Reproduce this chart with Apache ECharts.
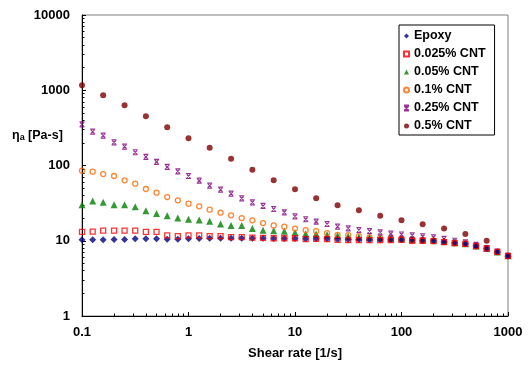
<!DOCTYPE html>
<html>
<head>
<meta charset="utf-8">
<script src="https://cdn.jsdelivr.net/npm/echarts@6/dist/echarts.min.js"></script>
<style>html,body{margin:0;padding:0;background:#fff;}#c{width:529px;height:371px;}</style>
</head>
<body>
<div id="c"></div>
<script>
// Shear rate (1/s), 10 points per decade
var shearRate = [0.1,0.126,0.158,0.2,0.251,0.316,0.398,0.501,0.631,0.794,
  1,1.26,1.58,2,2.51,3.16,3.98,5.01,6.31,7.94,
  10,12.6,15.8,20,25.1,31.6,39.8,50.1,63.1,79.4,
  100,126,158,200,251,316,398,501,631,794,1000];
// Shear rate for 0.5% CNT, 5 points per decade
var shearRate05 = [0.1,0.158,0.251,0.398,0.631,1,1.58,2.51,3.98,6.31,10,15.8,25.1,39.8,63.1,100,158,251,398,631,1000];

var epoxy = [10.3,10.3,10.3,10.4,10.4,10.6,10.6,10.6,10.5,10.5,
  10.6,10.7,10.8,10.8,10.8,10.8,10.8,10.8,10.7,10.7,
  10.7,10.6,10.6,10.6,10.5,10.4,10.4,10.3,10.3,10.3,
  10.3,10.2,10.0,9.9,9.6,9.3,9.1,8.5,7.9,7.1,6.2];
var cnt0025 = [13.1,13.2,13.6,13.6,13.6,13.6,13.1,13.1,11.8,11.5,
  11.8,11.8,11.5,11.5,11.2,11.2,11.0,10.9,10.8,10.8,
  10.8,10.5,10.6,10.5,10.3,10.2,10.2,10.2,10.2,10.2,
  10.3,10.0,10.0,9.9,9.6,9.3,9.1,8.5,7.9,7.1,6.3];
var cnt005 = [30.1,33.7,32.4,30.1,30.0,28.4,25.1,23.1,21.5,20.0,
  19.3,18.9,18.2,16.7,16.0,15.9,14.5,13.8,13.6,13.4,
  12.9,12.4,12.3,12.0,11.7,11.5,11.2,11.1,10.9,10.8,
  10.6,10.4,10.3,10.2,9.8,9.4,9.1,8.5,7.9,7.1,6.3];
var cnt01 = [85.4,82.8,77.0,72.5,63.6,57.3,48.7,43.5,38.1,34.4,
  31.1,28.7,25.9,23.6,21.8,20.0,18.7,17.2,16.0,15.4,
  14.5,13.8,13.4,12.6,12.0,11.9,11.5,11.1,10.9,10.8,
  10.6,10.4,10.2,10.1,9.7,9.3,9.1,8.5,7.9,7.1,6.3];
var cnt025 = [352,282,249,203,178,150,130,112,96,83.7,
  72.5,62.8,53.9,47.7,42.2,36.6,32.4,29.0,26.4,23.9,
  21.1,19.3,17.9,16.7,15.4,14.6,13.9,13.4,12.9,12.4,
  12.1,11.8,11.4,11.1,10.6,10.0,9.5,8.8,8.0,7.2,6.3];
var cnt05 = [1164,857,631,451,322,230,172,123,88,63.6,48.2,36.6,29.6,25.4,21.5,18.7,16.6,14.6,12.3,10.0,6.3];

var seriesNames = ['Epoxy','0.025% CNT','0.05% CNT','0.1% CNT','0.25% CNT','0.5% CNT'];
var xTickLabels = [0.1,1,10,100,1000];
var yTickLabels = [1,10,100,1000,10000];
var xMinorTicks = [0.2,0.3,0.4,0.5,0.6,0.7,0.8,0.9,2,3,4,5,6,7,8,9,20,30,40,50,60,70,80,90,200,300,400,500,600,700,800,900];
var yMinorTicks = [2,3,4,5,6,7,8,9,20,30,40,50,60,70,80,90,200,300,400,500,600,700,800,900,2000,3000,4000,5000,6000,7000,8000,9000];

function pairs(xs, ys){ return ys.map(function(v,i){ return [xs[i], v]; }); }

var FONT = 'Liberation Sans, Arial, sans-serif';
var starPath = 'path://M0,0L10,0M0,10L10,10M1.5,1.5L8.5,8.5M8.5,1.5L1.5,8.5';

var chart = echarts.init(document.getElementById('c'), null, {renderer:'canvas'});
var labelStyle = {color:'#000', fontWeight:'bold', fontSize:13, fontFamily:FONT};
chart.setOption({
  animation:false,
  backgroundColor:'#fff',
  grid:{left:82, right:21, top:15, bottom:55, show:true, borderColor:'#808080', borderWidth:1, backgroundColor:'transparent'},
  xAxis:[{
    type:'log', logBase:10, min:0.1, max:1000, position:'bottom',
    axisLine:{show:true, lineStyle:{color:'#000', width:1}},
    axisTick:{show:true, inside:true, length:4, lineStyle:{color:'#000'}},
    axisLabel:Object.assign({margin:10, customValues:xTickLabels, formatter:function(v){return String(v);}}, labelStyle),
    splitLine:{show:false}, minorTick:{show:false},
    name:'Shear rate [1/s]', nameLocation:'middle', nameGap:31,
    nameTextStyle:{color:'#000', fontWeight:'bold', fontSize:13, fontFamily:FONT}
  },{
    type:'log', logBase:10, min:0.1, max:1000, position:'bottom',
    axisLine:{show:false}, axisLabel:{show:false}, splitLine:{show:false},
    axisTick:{show:true, inside:true, length:2.5, customValues:xMinorTicks, lineStyle:{color:'#000'}}
  }],
  yAxis:[{
    type:'log', logBase:10, min:1, max:10000, position:'left',
    axisLine:{show:true, lineStyle:{color:'#000', width:1}},
    axisTick:{show:true, inside:true, length:4, lineStyle:{color:'#000'}},
    axisLabel:Object.assign({margin:12, customValues:yTickLabels, formatter:function(v){return String(v);}}, labelStyle),
    splitLine:{show:false}
  },{
    type:'log', logBase:10, min:1, max:10000, position:'left',
    axisLine:{show:false}, axisLabel:{show:false}, splitLine:{show:false},
    axisTick:{show:true, inside:true, length:2.5, customValues:yMinorTicks, lineStyle:{color:'#000'}}
  }],
  legend:{
    orient:'vertical', left:399, top:25,
    padding:[4,9,2,4], itemGap:4, itemWidth:5, itemHeight:5,
    borderColor:'#000', borderWidth:1, backgroundColor:'#fff',
    textStyle:{color:'#000', fontWeight:'bold', fontSize:12.5, fontFamily:FONT, lineHeight:14},
    data:seriesNames
  },
  graphic:[{
    type:'text', left:12, top:129,
    style:{
      text:'{n|η}{s|a}{n| [Pa-s]}',
      rich:{
        n:{fontSize:12.5, fontWeight:'bold', fontFamily:FONT, fill:'#000'},
        s:{fontSize:9, fontWeight:'bold', fontFamily:FONT, fill:'#000', padding:[4,0,0,0]}
      }
    }
  }],
  series:[
    {name:seriesNames[0], type:'scatter', symbol:'diamond', symbolSize:7, z:3,
     itemStyle:{color:'#000080'}, data:pairs(shearRate, epoxy)},
    {name:seriesNames[1], type:'scatter', symbol:'rect', symbolSize:5, z:4,
     itemStyle:{color:'transparent', borderColor:'#ff0000', borderWidth:1.3}, data:pairs(shearRate, cnt0025)},
    {name:seriesNames[2], type:'scatter', symbol:'triangle', symbolSize:7, z:2,
     itemStyle:{color:'#008000'}, data:pairs(shearRate, cnt005)},
    {name:seriesNames[3], type:'scatter', symbol:'circle', symbolSize:5, z:2,
     itemStyle:{color:'transparent', borderColor:'#ff6600', borderWidth:1.3}, data:pairs(shearRate, cnt01)},
    {name:seriesNames[4], type:'scatter', symbol:starPath, symbolSize:5, z:2,
     itemStyle:{color:'transparent', borderColor:'#800080', borderWidth:1.2}, data:pairs(shearRate, cnt025)},
    {name:seriesNames[5], type:'scatter', symbol:'circle', symbolSize:6, z:1,
     itemStyle:{color:'#800000'}, data:pairs(shearRate05, cnt05)}
  ]
});
</script>
</body>
</html>
